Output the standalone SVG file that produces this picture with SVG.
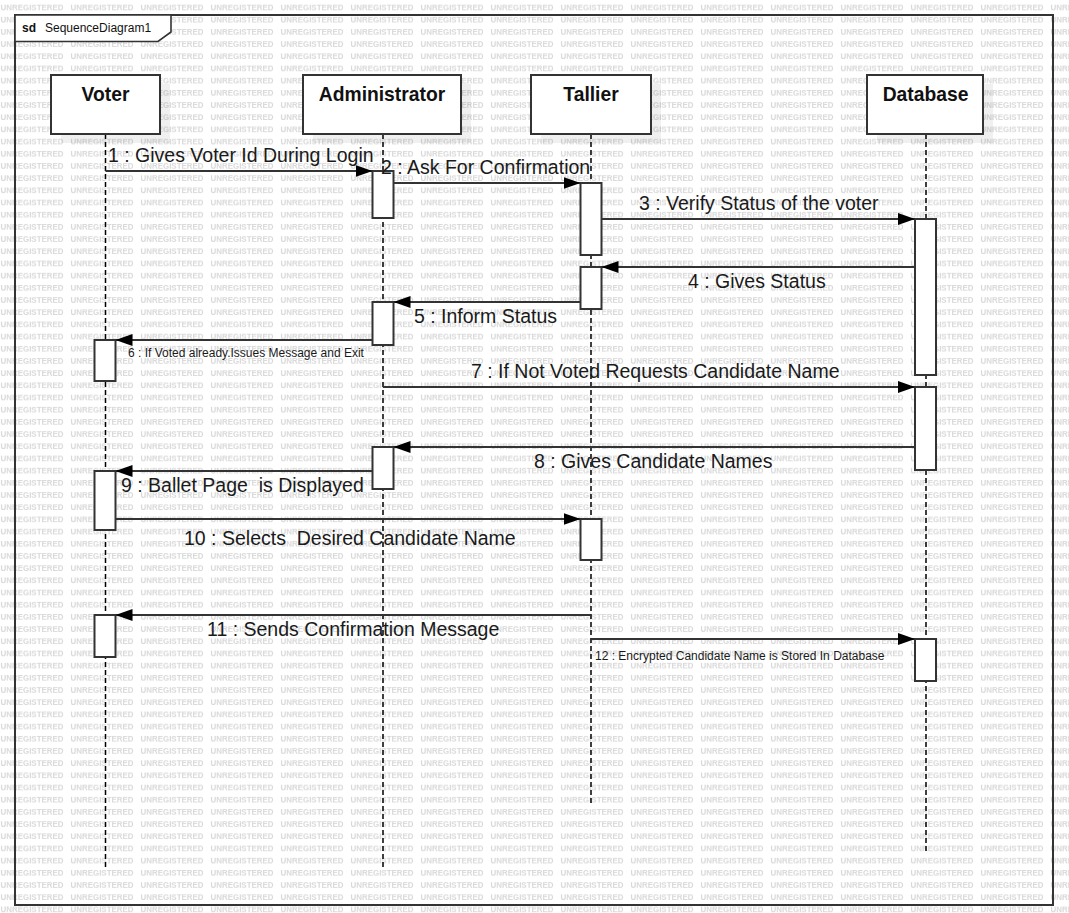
<svg xmlns="http://www.w3.org/2000/svg" width="1069" height="913" viewBox="0 0 1069 913">
  <style>
    .wm { font-family: "Liberation Sans", Arial, sans-serif; font-size: 8px; font-weight: bold; fill: #d9d9d9; }
    .frame { fill: none; stroke: #333; stroke-width: 2; }
    .tab { fill: #fff; stroke: #333; stroke-width: 1.6; }
    .tabtxt { font-family: "Liberation Sans", Arial, sans-serif; font-size: 12px; fill: #111; }
    .head { fill: #fff; stroke: #333; stroke-width: 2; }
    .shadow { fill: #000; fill-opacity: 0.06; }
    .name { font-family: "Liberation Sans", Arial, sans-serif; font-size: 19.3px; font-weight: bold; fill: #111; text-anchor: middle; }
    .life { stroke: #000; stroke-width: 1.5; stroke-dasharray: 5 3; fill: none; }
    .act { fill: #fff; stroke: #333; stroke-width: 2; }
    .msg { stroke: #333; stroke-width: 2; fill: none; marker-end: url(#head); }
    .lbl { font-family: "Liberation Sans", Arial, sans-serif; font-size: 19.5px; fill: #1a1a1a; }
    .lbl-s { font-family: "Liberation Sans", Arial, sans-serif; font-size: 12px; fill: #1a1a1a; }
  </style>
  <defs>
    <pattern id="wmark" patternUnits="userSpaceOnUse" x="0" y="0" width="70" height="12.1875">
      <rect width="70" height="12.1875" fill="#fff"/>
      <text class="wm" x="0.5" y="10.3" textLength="63" lengthAdjust="spacingAndGlyphs">UNREGISTERED</text>
    </pattern>
    <marker id="head" markerUnits="userSpaceOnUse" markerWidth="18" markerHeight="14" refX="17" refY="6" orient="auto">
      <path d="M0,0 L17,6 L0,12 Z" fill="#000"/>
    </marker>
  </defs>

  <!-- background -->
  <rect x="0" y="0" width="1069" height="913" fill="url(#wmark)"/>

  <!-- frame -->
  <g id="frame">
    <rect class="frame" x="15" y="15" width="1038" height="890"/>
    <path class="tab" d="M15,15 H171 V32 L158,41.5 H15 Z"/>
    <text class="tabtxt" x="22" y="32" font-weight="bold">sd</text>
    <text class="tabtxt" x="45" y="32">SequenceDiagram1</text>
  </g>

  <!-- lifelines -->
  <g id="lifelines">
    <line class="life" x1="105.5" y1="134" x2="105.5" y2="867"/>
    <line class="life" x1="383" y1="134" x2="383" y2="867"/>
    <line class="life" x1="591" y1="134" x2="591" y2="806"/>
    <line class="life" x1="926" y1="134" x2="926" y2="851"/>
  </g>

  <!-- participants -->
  <g id="voter">
    <rect class="shadow" x="61" y="84" width="109" height="59"/>
    <rect class="head" x="51" y="75" width="109" height="59"/>
    <text class="name" x="105.5" y="101">Voter</text>
  </g>
  <g id="administrator">
    <rect class="shadow" x="313" y="84" width="158" height="59"/>
    <rect class="head" x="303" y="75" width="158" height="59"/>
    <text class="name" x="382" y="101">Administrator</text>
  </g>
  <g id="tallier">
    <rect class="shadow" x="541" y="84" width="120" height="59"/>
    <rect class="head" x="531" y="75" width="120" height="59"/>
    <text class="name" x="591" y="101">Tallier</text>
  </g>
  <g id="database">
    <rect class="shadow" x="877" y="84" width="116" height="59"/>
    <rect class="head" x="867" y="75" width="116" height="59"/>
    <text class="name" x="925.5" y="101">Database</text>
  </g>

  <!-- activation bars -->
  <g id="activations">
    <rect class="act" x="372.5" y="171" width="21" height="47"/>
    <rect class="act" x="580.5" y="183" width="21" height="72"/>
    <rect class="act" x="915" y="219" width="21" height="156"/>
    <rect class="act" x="580.5" y="267" width="21" height="42"/>
    <rect class="act" x="372.5" y="302" width="21" height="43"/>
    <rect class="act" x="94.5" y="340" width="21" height="41"/>
    <rect class="act" x="915" y="387" width="21" height="83"/>
    <rect class="act" x="372.5" y="447" width="21" height="42"/>
    <rect class="act" x="94.5" y="471" width="21" height="59"/>
    <rect class="act" x="580.5" y="519" width="21" height="41"/>
    <rect class="act" x="94.5" y="615" width="21" height="42"/>
    <rect class="act" x="915" y="639" width="21" height="42"/>
  </g>

  <!-- messages -->
  <g id="connectors">
    <line class="msg" x1="105.5" y1="171" x2="372.5" y2="171"/>
    <line class="msg" x1="393.5" y1="183" x2="580.5" y2="183"/>
    <line class="msg" x1="601.5" y1="219" x2="915" y2="219"/>
    <line class="msg" x1="915" y1="267" x2="601.5" y2="267"/>
    <line class="msg" x1="580.5" y1="302" x2="393.5" y2="302"/>
    <line class="msg" x1="372.5" y1="340" x2="115.5" y2="340"/>
    <line class="msg" x1="383" y1="387" x2="915" y2="387"/>
    <line class="msg" x1="915" y1="447" x2="393.5" y2="447"/>
    <line class="msg" x1="372.5" y1="471" x2="115.5" y2="471"/>
    <line class="msg" x1="115.5" y1="519" x2="580.5" y2="519"/>
    <line class="msg" x1="591" y1="615" x2="115.5" y2="615"/>
    <line class="msg" x1="591" y1="639" x2="915" y2="639"/>
  </g>

  <!-- message labels -->
  <g id="labels">
    <text class="lbl" x="108" y="162">1 : Gives Voter Id During Login</text>
    <text class="lbl" x="381" y="174">2 : Ask For Confirmation</text>
    <text class="lbl" x="639" y="210">3 : Verify Status of the voter</text>
    <text class="lbl" x="688" y="288">4 : Gives Status</text>
    <text class="lbl" x="414" y="323">5 : Inform Status</text>
    <text class="lbl-s" x="128" y="357">6 : If Voted already.Issues Message and Exit</text>
    <text class="lbl" x="471" y="378">7 : If Not Voted Requests Candidate Name</text>
    <text class="lbl" x="534" y="468">8 : Gives Candidate Names</text>
    <text class="lbl" x="121" y="492" xml:space="preserve">9 : Ballet Page  is Displayed</text>
    <text class="lbl" x="184" y="545" xml:space="preserve">10 : Selects  Desired Candidate Name</text>
    <text class="lbl" x="207" y="636">11 : Sends Confirmation Message</text>
    <text class="lbl-s" x="595" y="660">12 : Encrypted Candidate Name is Stored In Database</text>
  </g>
</svg>
